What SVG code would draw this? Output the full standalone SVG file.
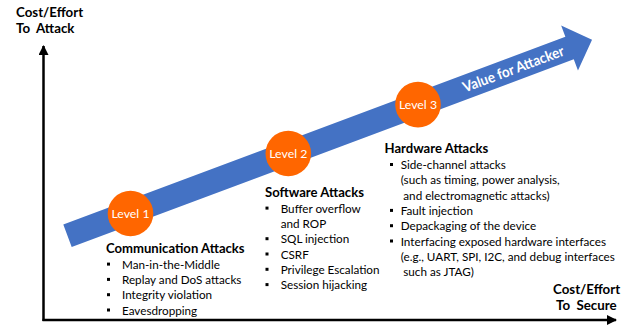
<svg xmlns="http://www.w3.org/2000/svg" width="628" height="325" viewBox="0 0 628 325">
<defs>
<style>
text{font-family:Lato,"Open Sans","Liberation Sans",sans-serif;fill:#000}
.h{font-weight:bold;font-size:13.1px}
.i{font-size:11.7px}
.ax{font-weight:bold;font-size:13.3px}
.lv{fill:#fff;font-size:12.3px;text-anchor:middle}
.axis{stroke:#000;stroke-width:2.5;fill:none}
</style>
<marker id="ah" viewBox="0 0 10 10" refX="9" refY="5" markerWidth="4" markerHeight="4" orient="auto" markerUnits="strokeWidth">
<path d="M0,0 L10,5 L0,10 Z" fill="#000"/>
</marker>
<rect id="bl" width="3" height="3"/>
</defs>
<rect width="628" height="325" fill="#fff"/>

<g id="connectors">
<path class="axis" d="M43.5,321 L43.5,46" marker-end="url(#ah)"/>
<path class="axis" d="M42.5,320 L616,320" marker-end="url(#ah)"/>
<g id="value-arrow" transform="translate(67.5,235.8) rotate(-20.5)">
<path d="M0,-12 L536,-12 L536,-24 L560,0 L536,24 L536,12 L0,12 Z" fill="#4472C4"/>
<text x="476" y="5" style="fill:#fff;font-size:14.5px;font-weight:bold" text-anchor="middle" textLength="107" lengthAdjust="spacingAndGlyphs">Value for Attacker</text>
</g>
</g>

<g id="axis-y-label">
<text class="ax" x="16" y="17">Cost/Effort</text>
<text class="ax" x="16" y="33">To&#160; Attack</text>
</g>
<g id="axis-x-label">
<text class="ax" x="553" y="294">Cost/Effort</text>
<text class="ax" x="556" y="310">To&#160; Secure</text>
</g>

<g id="level1">
<circle cx="130.5" cy="213.5" r="22.8" fill="#FF6600"/>
<text class="lv" x="130.5" y="218">Level 1</text>
</g>
<g id="level2">
<circle cx="288.3" cy="153.5" r="22.8" fill="#FF6600"/>
<text class="lv" x="288.3" y="158">Level 2</text>
</g>
<g id="level3">
<circle cx="418" cy="104.6" r="22.8" fill="#FF6600"/>
<text class="lv" x="418" y="109">Level 3</text>
</g>

<g id="communication">
<text class="h" x="106" y="253.3">Communication Attacks</text>
<use href="#bl" x="107" y="262.6"/>
<text class="i" x="122" y="268.6">Man-in-the-Middle</text>
<use href="#bl" x="107" y="277.9"/>
<text class="i" x="122" y="283.9">Replay and DoS attacks</text>
<use href="#bl" x="107" y="293.2"/>
<text class="i" x="122" y="299.2">Integrity violation</text>
<use href="#bl" x="107" y="308.5"/>
<text class="i" x="122" y="314.5">Eavesdropping</text>
</g>

<g id="software">
<text class="h" x="265" y="197.3">Software Attacks</text>
<use href="#bl" x="265.5" y="206.6"/>
<text class="i" x="280.7" y="212.6">Buffer overflow</text>
<text class="i" x="280.7" y="227.9">and ROP</text>
<use href="#bl" x="265.5" y="237.2"/>
<text class="i" x="280.7" y="243.2">SQL injection</text>
<use href="#bl" x="265.5" y="252.5"/>
<text class="i" x="280.7" y="258.5">CSRF</text>
<use href="#bl" x="265.5" y="267.8"/>
<text class="i" x="280.7" y="273.8">Privilege Escalation</text>
<use href="#bl" x="265.5" y="283.1"/>
<text class="i" x="280.7" y="289.1">Session hijacking</text>
</g>

<g id="hardware">
<text class="h" x="384.5" y="153.3">Hardware Attacks</text>
<use href="#bl" x="390" y="163"/>
<text class="i" x="400.7" y="169">Side-channel attacks</text>
<text class="i" x="400.7" y="184.3">(such as timing, power analysis,</text>
<text class="i" x="403.3" y="199.6">and electromagnetic attacks)</text>
<use href="#bl" x="390" y="208.9"/>
<text class="i" x="400.7" y="214.9">Fault injection</text>
<use href="#bl" x="390" y="224.2"/>
<text class="i" x="400.7" y="230.2">Depackaging of the device</text>
<use href="#bl" x="390" y="239.5"/>
<text class="i" x="400.7" y="245.5">Interfacing exposed hardware interfaces</text>
<text class="i" x="400.7" y="260.8">(e.g., UART, SPI, I2C, and debug interfaces</text>
<text class="i" x="403.3" y="276">such as JTAG)</text>
</g>
</svg>
